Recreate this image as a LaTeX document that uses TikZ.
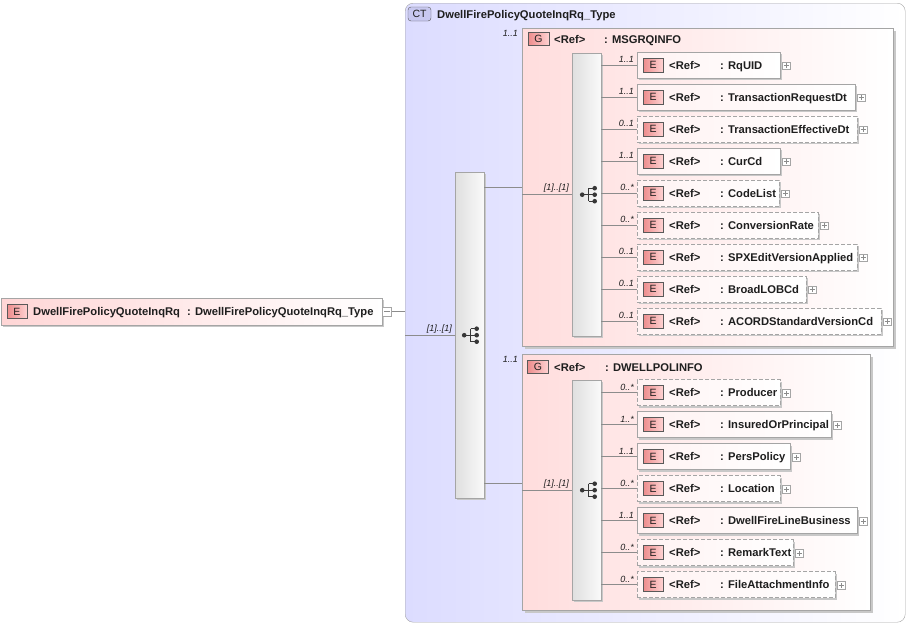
\documentclass[tikz,border=0pt]{standalone}
\usepackage{fontspec}
\setmainfont{Liberation Sans}
\usetikzlibrary{shadows,calc}
\definecolor{ctfill}{RGB}{220,220,255}
\definecolor{ctbadge}{RGB}{200,200,240}
\definecolor{grpfill}{RGB}{255,221,221}
\definecolor{elleft}{RGB}{255,242,242}
\definecolor{topleft}{RGB}{255,214,214}
\definecolor{badgeL}{RGB}{236,140,140}
\definecolor{badgeR}{RGB}{255,210,210}
\definecolor{bordgray}{RGB}{165,165,165}
\definecolor{shadowgray}{RGB}{200,200,200}
\definecolor{linegray}{RGB}{140,140,140}
\definecolor{icongray}{RGB}{55,55,55}
\definecolor{txtcol}{RGB}{30,30,30}
\tikzset{
  sh/.style={drop shadow={shadow xshift=2pt,shadow yshift=-2pt,fill=shadowgray,opacity=1}},
  elbox/.style={draw=bordgray,left color=elleft,right color=white,minimum height=26,inner sep=0pt,sh},
  optional/.style={dashed,dash pattern=on 4pt off 2pt},
  required/.style={solid},
  badge/.style={draw=black!65,left color=badgeL,right color=badgeR,minimum width=20,minimum height=14,inner sep=0pt,font=\fontsize{10.5}{11}\selectfont,text=txtcol},
  txt/.style={inner sep=0pt,font=\fontsize{11.2}{13}\selectfont\bfseries,text=txtcol},
  card/.style={inner sep=0pt,anchor=south east,font=\fontsize{9}{10}\selectfont\itshape,text=txtcol},
  conn/.style={draw=linegray,line width=0.7pt},
  plusbox/.style={draw=bordgray,fill=white,minimum size=7.5,inner sep=0pt,
    path picture={\draw[linegray,line width=0.5pt] ([xshift=-2.5pt]path picture bounding box.center) -- ([xshift=2.5pt]path picture bounding box.center) ([yshift=-2.5pt]path picture bounding box.center) -- ([yshift=2.5pt]path picture bounding box.center);}},
  minusbox/.style={draw=bordgray,fill=white,minimum size=9,inner sep=0pt,
    path picture={\draw[linegray,line width=0.5pt] ([xshift=-3pt]path picture bounding box.center) -- ([xshift=3pt]path picture bounding box.center);}},
  seqbox/.style={draw=bordgray,left color=gray!25,right color=gray!4,minimum width=29,inner sep=0pt,sh},
  grpbox/.style={draw=bordgray,left color=grpfill,right color=white,inner sep=0pt,drop shadow={shadow xshift=3pt,shadow yshift=-3pt,fill=shadowgray,opacity=1}},
  seqicon/.pic={
    \draw[icongray,line width=1pt] (-5.5,0) -- (1,0) (1,-6.5) -- (1,6.5)
      (1,-6.5) -- (7,-6.5) (1,0) -- (7,0) (1,6.5) -- (7,6.5);
    \fill[icongray] (-5.5,0) circle [radius=2.3pt] (7,-6.5) circle [radius=2.3pt] (7,0) circle [radius=2.3pt] (7,6.5) circle [radius=2.3pt];
  }
}
\newcommand\elm[7]{%
  \node[elbox,#6,minimum width={#3-637},anchor=west] (#1) at (637,#2) {};
  \node[badge] (#1b) at ([xshift=16pt]#1.west) {E};
  \node[txt,anchor=base west] (#1r) at ([xshift=32pt,yshift=-4pt]#1.west) {<Ref>};
  \node[txt,anchor=base west] (#1n) at ([xshift=83pt,yshift=-4pt]#1.west) {: #4};
  \node[plusbox,anchor=west] (#1p) at ([xshift=2pt,yshift=-0.5pt]#1.east) {};
  \draw[conn] (#7.east |- #1.west) -- (#1.west);
  \node[card] at ([xshift=-3pt,yshift=2pt]#1.west) {#5};
}
\begin{document}
\begin{tikzpicture}[x=1pt,y=-1pt]
\useasboundingbox (0,0) rectangle (909,625);
% complex type
\node[draw=bordgray,rounded corners=8pt,left color=ctfill,right color=white,minimum width=500,minimum height=619,anchor=north west,inner sep=0pt] (ct) at (405,3) {};
\node[draw=black!65,fill=ctbadge,rounded corners=3pt,minimum width=23,minimum height=14,inner sep=0pt,font=\fontsize{10.5}{11}\selectfont,text=txtcol] (ctb) at (419.5,14) {CT};
\node[txt,anchor=base west] (ctt) at (437,18) {DwellFirePolicyQuoteInqRq\_Type};

% top element
\node[draw=bordgray,left color=topleft,right color=white,minimum width=381,minimum height=27,anchor=north west,inner sep=0pt,sh] (top) at (1,298) {};
\node[badge] (topb) at (17,311.5) {E};
\node[txt,anchor=base west] (topn) at (33,315.5) {DwellFirePolicyQuoteInqRq};
\node[txt,anchor=base west] (topt) at (187,315.5) {: DwellFirePolicyQuoteInqRq\_Type};
\node[minusbox,anchor=west] (topm) at (top.east) {};
\draw[conn] (topm.east) -- (topm.east -| ct.west);

% outer sequence
\node[seqbox,minimum height=326,anchor=north west] (seq) at (455,172) {};
\pic at ([xshift=0pt]seq.center) {seqicon};
\draw[conn] (ct.west |- seq.center) -- (seq.west);
\node[card] at ([xshift=-3pt,yshift=2pt]seq.west) {[1]..[1]};

% group 1
\node[grpbox,minimum width=371,minimum height=318,anchor=north west] (g1) at (522,28) {};
\node[card] at ([xshift=-4pt,yshift=-9pt]g1.north west) {1..1};
\node[badge,minimum width=21,minimum height=13] (g1b) at (538.5,39) {G};
\node[txt,anchor=base west] (g1r) at (554,43) {<Ref>};
\node[txt,anchor=base west] (g1n) at (604,43) {: MSGRQINFO};
\coordinate (g1in) at (522,187);
\draw[conn] (seq.east |- g1in) -- (g1in);
\node[seqbox,minimum height=283,anchor=north west] (s1) at (572,53) {};
\pic at ([xshift=1pt]s1.center) {seqicon};
\draw[conn] (g1.west |- s1.center) -- (s1.west);
\node[card] at ([xshift=-3pt,yshift=2pt]s1.west) {[1]..[1]};

\elm{a1}{65}{780}{RqUID}{1..1}{required}{s1}
\elm{a2}{97}{855}{TransactionRequestDt}{1..1}{required}{s1}
\elm{a3}{129}{857}{TransactionEffectiveDt}{0..1}{optional}{s1}
\elm{a4}{161}{780}{CurCd}{1..1}{required}{s1}
\elm{a5}{193}{779}{CodeList}{0..*}{optional}{s1}
\elm{a6}{225}{818}{ConversionRate}{0..*}{optional}{s1}
\elm{a7}{257}{857}{SPXEditVersionApplied}{0..1}{optional}{s1}
\elm{a8}{289}{806}{BroadLOBCd}{0..1}{optional}{s1}
\elm{a9}{321}{881}{ACORDStandardVersionCd}{0..1}{optional}{s1}

% group 2
\node[grpbox,minimum width=348,minimum height=256,anchor=north west] (g2) at (522,354) {};
\node[card] at ([xshift=-4pt,yshift=-9pt]g2.north west) {1..1};
\node[badge,minimum width=21,minimum height=13] (g2b) at (538,367) {G};
\node[txt,anchor=base west] (g2r) at (554,371) {<Ref>};
\node[txt,anchor=base west] (g2n) at (605,371) {: DWELLPOLINFO};
\coordinate (g2in) at (522,483);
\draw[conn] (seq.east |- g2in) -- (g2in);
\node[seqbox,minimum height=220,anchor=north west] (s2) at (572,380) {};
\pic at ([xshift=1pt]s2.center) {seqicon};
\draw[conn] (g2.west |- s2.center) -- (s2.west);
\node[card] at ([xshift=-3pt,yshift=2pt]s2.west) {[1]..[1]};

\elm{b1}{392.5}{780}{Producer}{0..*}{optional}{s2}
\elm{b2}{424.5}{831}{InsuredOrPrincipal}{1..*}{required}{s2}
\elm{b3}{456.5}{790}{PersPolicy}{1..1}{required}{s2}
\elm{b4}{488.5}{780}{Location}{0..*}{optional}{s2}
\elm{b5}{520.5}{857}{DwellFireLineBusiness}{1..1}{required}{s2}
\elm{b6}{552.5}{793}{RemarkText}{0..*}{optional}{s2}
\elm{b7}{584.5}{835}{FileAttachmentInfo}{0..*}{optional}{s2}
\end{tikzpicture}
\end{document}
